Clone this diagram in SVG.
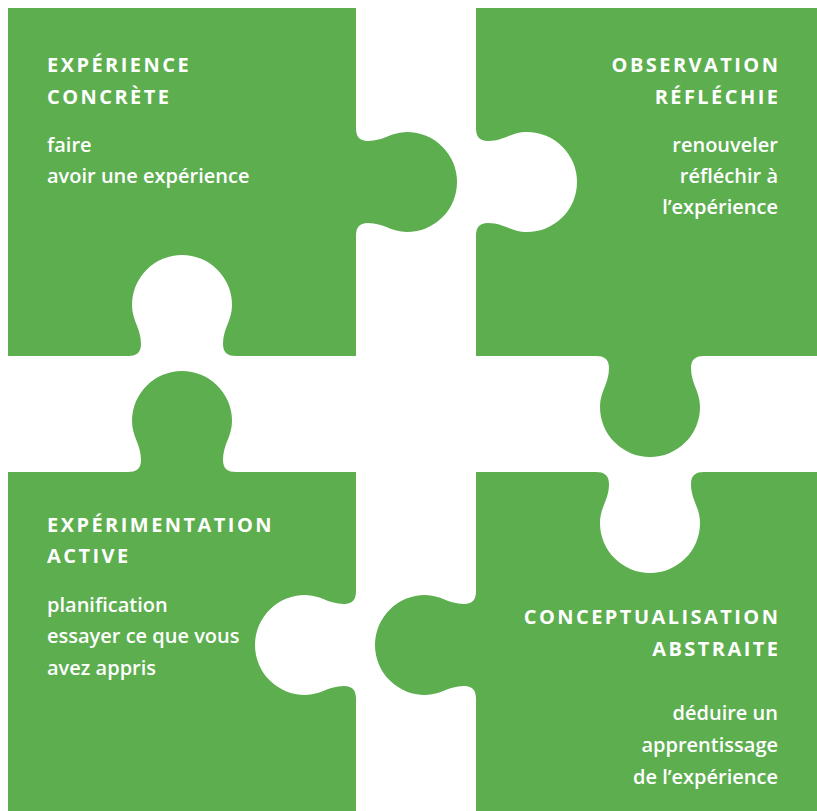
<svg xmlns="http://www.w3.org/2000/svg" width="817" height="811" viewBox="0 0 817 811">
<style>
.piece{fill:#5cae4f;stroke:none}
.h{font-family:"Open Sans","Liberation Sans",sans-serif;font-weight:700;font-size:20px;letter-spacing:2.45px;fill:#fff}
.b{font-family:"Open Sans","Liberation Sans",sans-serif;font-weight:600;font-size:20px;fill:#fff}
.r{text-anchor:end}
</style>
<rect width="817" height="811" fill="#fff"/>
<g id="experience-concrete">
<path class="piece" d="M8 8 H356 V128 C356 136 359 141 368 141 C384 141 391 132 407 132 A50 50 0 0 1 407 232 C391 232 384 223 368 223 C359 223 356 228 356 236 V356 H236 C228 356 223 353 223 344 C223 328 232 321 232 305 A50 50 0 0 0 132 305 C132 321 141 328 141 344 C141 353 136 356 128 356 H8 Z"/>
<text class="h" x="47" y="72">EXPÉRIENCE</text>
<text class="h" x="47" y="104">CONCRÈTE</text>
<text class="b" x="47" y="152">faire</text>
<text class="b" x="47" y="183">avoir une expérience</text>
</g>
<g id="observation-reflechie">
<path class="piece" d="M476 8 H817 V356 H704 C696 356 691 359 691 368 C691 384 700 391 700 407 A50 50 0 0 1 600 407 C600 391 609 384 609 368 C609 359 604 356 596 356 H476 V236 C476 228 479 223 488 223 C504 223 511 232 527 232 A50 50 0 0 0 527 132 C511 132 504 141 488 141 C479 141 476 136 476 128 Z"/>
<text class="h r" x="780.45" y="72">OBSERVATION</text>
<text class="h r" x="780.45" y="104">RÉFLÉCHIE</text>
<text class="b r" x="778" y="152">renouveler</text>
<text class="b r" x="778" y="183">réfléchir à</text>
<text class="b r" x="778" y="214">l’expérience</text>
</g>
<g id="experimentation-active">
<path class="piece" d="M8 472 H128 C136 472 141 469 141 460 C141 444 132 437 132 421 A50 50 0 0 1 232 421 C232 437 223 444 223 460 C223 469 228 472 236 472 H356 V591 C356 599 353 604 344 604 C328 604 321 595 305 595 A50 50 0 0 0 305 695 C321 695 328 686 344 686 C353 686 356 691 356 699 V811 H8 Z"/>
<text class="h" x="47" y="532">EXPÉRIMENTATION</text>
<text class="h" x="47" y="563">ACTIVE</text>
<text class="b" x="47" y="612">planification</text>
<text class="b" x="47" y="643">essayer ce que vous</text>
<text class="b" x="47" y="675">avez appris</text>
</g>
<g id="conceptualisation-abstraite">
<path class="piece" d="M476 472 H596 C604 472 609 475 609 484 C609 500 600 507 600 523 A50 50 0 0 0 700 523 C700 507 691 500 691 484 C691 475 696 472 704 472 H817 V811 H476 V699 C476 691 473 686 464 686 C448 686 441 695 425 695 A50 50 0 0 1 425 595 C441 595 448 604 464 604 C473 604 476 599 476 591 Z"/>
<text class="h r" x="780.45" y="624">CONCEPTUALISATION</text>
<text class="h r" x="780.45" y="656">ABSTRAITE</text>
<text class="b r" x="778" y="720">déduire un</text>
<text class="b r" x="778" y="752">apprentissage</text>
<text class="b r" x="778" y="784">de l’expérience</text>
</g>
<g id="connectors"></g>
</svg>
